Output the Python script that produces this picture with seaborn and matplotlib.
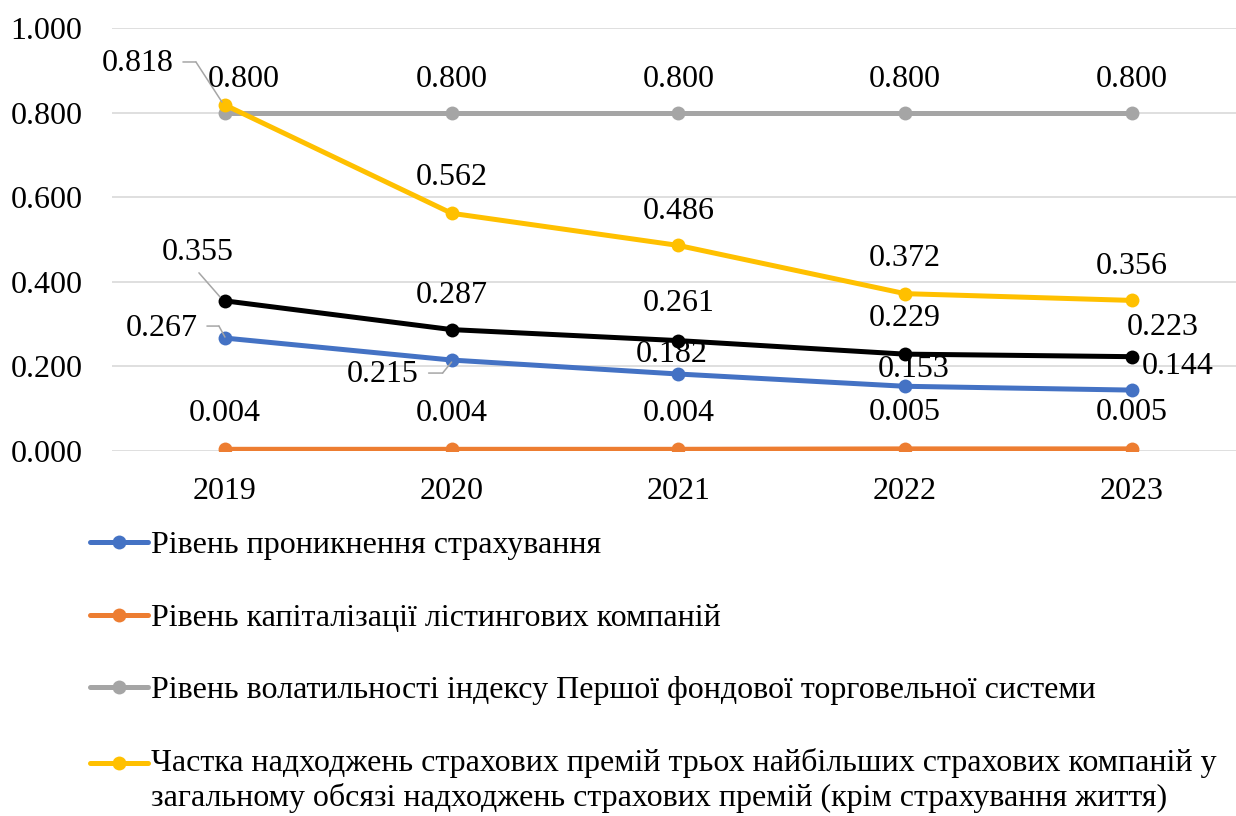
import numpy as np
import pandas as pd
import seaborn as sns
import matplotlib.pyplot as plt
from matplotlib.transforms import offset_copy
from matplotlib.legend_handler import HandlerLine2D

# data
years = ['2019', '2020', '2021', '2022', '2023']
penetration = [0.267, 0.215, 0.182, 0.153, 0.144]
capitalization = [0.004, 0.004, 0.004, 0.005, 0.005]
volatility = [0.800, 0.800, 0.800, 0.800, 0.800]
top3_share = [0.818, 0.562, 0.486, 0.372, 0.356]
integral = [0.355, 0.287, 0.261, 0.229, 0.223]

names = [
    'Рівень проникнення страхування',
    'Рівень капіталізації лістингових компаній',
    'Рівень волатильності індексу Першої фондової торговельної системи',
    'Частка надходжень страхових премій трьох найбільших страхових компаній у\n'
    'загальному обсязі надходжень страхових премій (крім страхування життя)',
    '_integral',
]
series = [penetration, capitalization, volatility, top3_share, integral]
colors = ['#4472C4', '#ED7D31', '#A5A5A5', '#FFC000', '#000000']

# label offsets in pixels (dx, dy) relative to each point, plus leader polylines
label_off = [
    [(-63, 10), (-69, -14), (-7, 20), (9, 17), (46, 24)],
    [(0, 36)] * 5,
    [(19, 33), (0, 33), (0, 33), (0, 33), (0, 33)],
    [(-87, 41), (0, 36), (0, 34), (0, 35), (0, 34)],
    [(-27, 48), (0, 34), (0, 37), (0, 36), (31, 29)],
]
leaders = {
    (0, 0): [(-18, 12), (-6, 12), (0, 1)],
    (0, 1): [(-23, -13), (-9, -13), (0, -2)],
    (3, 0): [(-42, 43), (-29, 43), (-3, 3)],
    (4, 0): [(-26, 28), (-5, 4)],
}


class ShiftedLine(HandlerLine2D):
    # keeps the legend handle on the first line of a two-line label
    def __init__(self, shift=0, **kw):
        super().__init__(**kw)
        self.shift = shift

    def create_artists(self, legend, orig_handle, xdescent, ydescent, width, height, fontsize, trans):
        arts = super().create_artists(legend, orig_handle, xdescent, ydescent, width, height, fontsize, trans)
        for a in arts:
            a.set_ydata(np.asarray(a.get_ydata()) + self.shift)
        return arts


sns.set_theme(style='white')
plt.rcParams['font.family'] = ['Liberation Serif', 'DejaVu Serif']
plt.rcParams['text.color'] = 'black'
FS = 23

fig = plt.figure(figsize=(12.36, 8.16), dpi=100)
W, H = 1236, 816
ax = fig.add_axes([111.6 / W, 1 - 451 / H, (1245 - 111.6) / W, (451 - 28) / H])

pos = np.arange(len(years))
for name, vals, col in zip(names, series, colors):
    df = pd.DataFrame({'pos': pos, 'value': vals})
    sns.lineplot(data=df, x='pos', y='value', color=col, marker='o', markersize=10,
                 markeredgewidth=0, linewidth=3.6, label=name, ax=ax, legend=False,
                 zorder=3)

# data labels
for s, vals in enumerate(series):
    for i, v in enumerate(vals):
        dx, dy = label_off[s][i]
        ax.annotate(f'{v:.3f}', xy=(i, v), xytext=(dx, dy), textcoords='offset pixels',
                    ha='center', va='center', fontsize=FS, color='black', zorder=5)

# leader lines
for (s, i), pts in leaders.items():
    v = series[s][i]
    for (x0, y0), (x1, y1) in zip(pts[:-1], pts[1:]):
        ax.annotate('', xy=(i, v), xycoords=offset_copy(ax.transData, fig=fig, x=x1, y=y1, units='dots'),
                    xytext=(i, v), textcoords=offset_copy(ax.transData, fig=fig, x=x0, y=y0, units='dots'),
                    arrowprops=dict(arrowstyle='-', color='#A6A6A6', lw=1.1, shrinkA=0, shrinkB=0))

ax.set_xlim(-0.5, len(years) - 0.5)
ax.set_ylim(0, 1.0)
ax.set_xticks(pos)
ax.set_xticklabels(years)
ax.set_yticks(np.arange(0, 1.01, 0.2))
ax.set_yticklabels([f'{t:.3f}' for t in np.arange(0, 1.01, 0.2)])
ax.set_xlabel('')
ax.set_ylabel('')
ax.tick_params(axis='both', length=0, labelsize=FS, colors='black')
ax.tick_params(axis='y', pad=21)
ax.tick_params(axis='x', pad=19)
ax.grid(axis='y', color='#D9D9D9', linewidth=1.2, zorder=0)
for sp in ax.spines.values():
    sp.set_visible(False)

handles, labels = ax.get_legend_handles_labels()
leg = fig.legend(handles, labels, loc='upper left', bbox_to_anchor=(90 / W, 1 - 531 / H),
                 frameon=False, fontsize=FS, handlelength=1.8, handletextpad=0.12,
                 labelspacing=1.35, borderpad=0, borderaxespad=0,
                 handler_map={handles[3]: ShiftedLine(shift=13)})
for t in leg.get_texts():
    t.set_linespacing(1.2)

fig.savefig('out.png', dpi=100)
